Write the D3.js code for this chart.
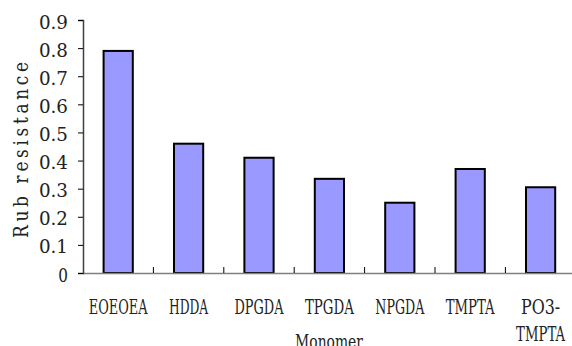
<!DOCTYPE html>
<html>
<head>
<meta charset="utf-8">
<script src="https://cdn.jsdelivr.net/npm/d3@7"></script>
<style>
  html, body { margin: 0; padding: 0; background: #fff; overflow: hidden; }
  svg { display: block; }
</style>
</head>
<body>
<script>
// Rub resistance of cured films by monomer
const categories = ["EOEOEA", "HDDA", "DPGDA", "TPGDA", "NPGDA", "TMPTA", "PO3-TMPTA"];
const categoryLines = [["EOEOEA"], ["HDDA"], ["DPGDA"], ["TPGDA"], ["NPGDA"], ["TMPTA"], ["PO3-", "TMPTA"]];
const rubResistance = [0.79, 0.46, 0.41, 0.335, 0.25, 0.37, 0.305];
const yTicks = [0, 0.1, 0.2, 0.3, 0.4, 0.5, 0.6, 0.7, 0.8, 0.9];
const yTickLabels = ["0", "0.1", "0.2", "0.3", "0.4", "0.5", "0.6", "0.7", "0.8", "0.9"];
const xTitle = "Monomer";
const yTitle = "Rub resistance";

const W = 572, H = 346;
const FONT = "'DejaVu Serif', 'Liberation Serif', serif";
const INK = "#222";

const svg = d3.select("body").append("svg")
  .attr("width", W).attr("height", H);

const x = d3.scaleBand()
  .domain(categories)
  .range([83, 575.8])
  .paddingInner(0.585)
  .paddingOuter(0.2925);

const y = d3.scaleLinear().domain([0, 0.9]).range([273, 20]);

// Half-width text: the string is squeezed horizontally so that every
// character takes charW pixels, like a CJK font's half-width glyphs.
function narrowText(parent, str, px, py, anchor, size, charW) {
  const g = parent.append("g");
  const t = g.append("text")
    .attr("text-anchor", anchor)
    .attr("font-family", FONT)
    .attr("font-size", size)
    .attr("fill", INK)
    .text(str);
  const natural = t.node().getComputedTextLength();
  const s = (str.length * charW) / natural;
  g.attr("transform", `translate(${px},${py}) scale(${s},1)`);
  return g;
}

// bars
svg.append("g").selectAll("rect")
  .data(categories)
  .join("rect")
  .attr("x", d => x(d))
  .attr("y", (d, i) => y(rubResistance[i]))
  .attr("width", x.bandwidth())
  .attr("height", (d, i) => y(0) - y(rubResistance[i]))
  .attr("fill", "#9999ff")
  .attr("stroke", "#000")
  .attr("stroke-width", 2);

// x axis: baseline with small inward ticks between categories
const step = x.step();
const xAxis = svg.append("g");
xAxis.append("line")
  .attr("x1", 83).attr("x2", 576).attr("y1", 273.5).attr("y2", 273.5)
  .attr("stroke", "#808080").attr("stroke-width", 1.5);
xAxis.selectAll("line.tick")
  .data(categories.slice(1))
  .join("line")
  .attr("class", "tick")
  .attr("x1", d => x(d) - x.paddingOuter() * step)
  .attr("x2", d => x(d) - x.paddingOuter() * step)
  .attr("y1", 267).attr("y2", 273)
  .attr("stroke", "#000").attr("stroke-width", 1);

// y axis
const yAxis = svg.append("g").attr("transform", "translate(83,0)")
  .call(d3.axisLeft(y).tickValues(yTicks).tickSize(5).tickFormat(""));
yAxis.select(".domain").attr("stroke", "#404040").attr("stroke-width", 1.5);
yAxis.selectAll(".tick line").attr("stroke", "#000").attr("stroke-width", 1);

// y tick labels
const yl = svg.append("g");
yTicks.forEach((v, i) => {
  narrowText(yl, yTickLabels[i], 68, y(v) + 8.5, "end", 18, 9.7);
});

// category labels
const xl = svg.append("g");
categoryLines.forEach((lines, i) => {
  const cx = x(categories[i]) + x.bandwidth() / 2;
  lines.forEach((ln, j) => {
    narrowText(xl, ln, cx, 314 + j * 26.5, "middle", 19.5, 9.8);
  });
});

// axis titles
narrowText(svg, xTitle, 329, 348, "middle", 19, 9.7);

// y title: narrow glyphs with wide letter spacing
svg.append("text")
  .attr("transform", "translate(28,150) rotate(-90) scale(0.85,1)")
  .attr("text-anchor", "middle")
  .attr("font-family", FONT)
  .attr("font-size", 20)
  .attr("fill", INK)
  .text(yTitle)
  .attr("textLength", 176 / 0.85)
  .attr("lengthAdjust", "spacing");
</script>
</body>
</html>
